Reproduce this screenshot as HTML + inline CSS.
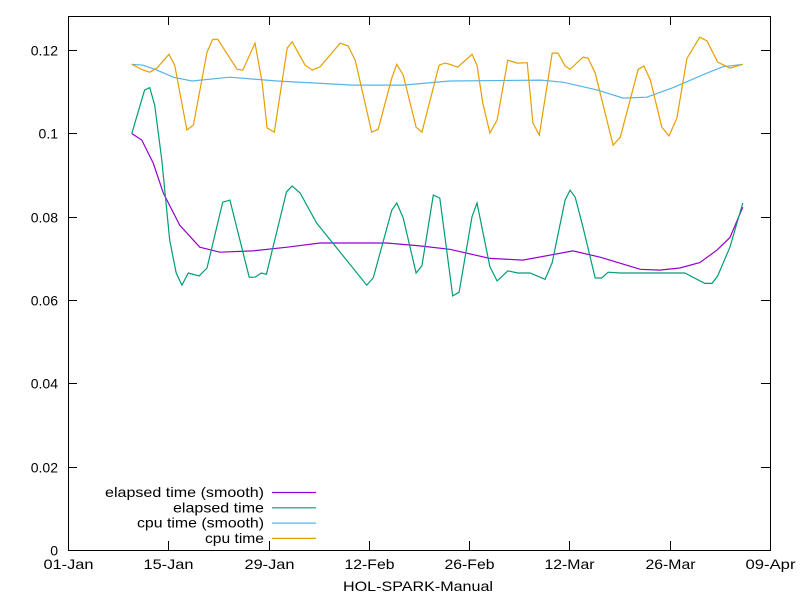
<!DOCTYPE html>
<html><head><meta charset="utf-8"><style>
body{margin:0;background:#fff}
svg{display:block;font-family:"Liberation Sans",sans-serif;font-size:14px}
</style></head><body>
<svg id="chart" width="800" height="600" viewBox="0 0 800 600" xmlns="http://www.w3.org/2000/svg">
<rect x="0" y="0" width="800" height="600" fill="#fff"/>
<g id="axes"></g>
<g id="series"></g>
<g id="legend"></g>
<text x="418" y="591" text-anchor="middle" textLength="150" lengthAdjust="spacingAndGlyphs">HOL-SPARK-Manual</text>
</svg>
<script>
// day offsets from 01-Jan
const yTicks = [0, 0.02, 0.04, 0.06, 0.08, 0.1, 0.12];
const yTickLabels = ["0", "0.02", "0.04", "0.06", "0.08", "0.1", "0.12"];
const xTicks = [0, 14, 28, 42, 56, 70, 84, 98];
const xTickLabels = ["01-Jan", "15-Jan", "29-Jan", "12-Feb", "26-Feb", "12-Mar", "26-Mar", "09-Apr"];

const elapsedDays = [8.9,10.7,11.4,12.1,13.1,14.2,15.1,15.9,16.8,18.3,19.4,21.6,22.6,25.3,26.1,27.0,27.7,30.5,31.3,32.4,34.7,41.7,42.6,45.2,45.9,46.8,48.6,49.4,51.0,51.9,53.7,54.6,56.4,57.1,58.9,59.9,61.4,62.8,64.5,66.6,67.6,69.4,70.1,70.8,71.9,73.6,74.5,75.4,77.1,79.9,82.2,86.1,88.9,89.9,90.7,92.4,94.2];
const elapsedVals = [0.100,0.1104,0.111,0.1068,0.0936,0.0744,0.0665,0.0636,0.0665,0.0658,0.0677,0.0835,0.084,0.0655,0.0655,0.0665,0.0662,0.086,0.0874,0.0857,0.0785,0.0636,0.0653,0.0816,0.0833,0.0797,0.0665,0.0682,0.0852,0.0845,0.061,0.0619,0.080,0.0833,0.068,0.0646,0.067,0.0665,0.0665,0.065,0.069,0.084,0.0864,0.0847,0.0775,0.0653,0.0653,0.0667,0.0665,0.0665,0.0665,0.0665,0.064,0.064,0.0658,0.0727,0.0833];

const elapsedSmoothDays = [8.9,10.3,11.9,13.3,15.6,18.4,21.2,25.8,30.6,35.2,44.5,49.1,53.3,58.9,63.5,70.5,74.3,79.9,82.6,85.4,88.2,90.6,92.4,94.2];
const elapsedSmoothVals = [0.100,0.0984,0.0929,0.0857,0.0780,0.0727,0.0715,0.0718,0.0727,0.0737,0.0737,0.073,0.0722,0.070,0.0696,0.0718,0.0703,0.0674,0.0672,0.0677,0.069,0.072,0.075,0.0823];

const cpuSmoothDays = [8.9,10.5,12.4,14.7,17.3,22.6,29.2,39.8,46.8,53.3,66.0,69.1,73.9,77.5,80.8,84.5,89.2,91.4,94.2];
const cpuSmoothVals = [0.1166,0.1164,0.1152,0.1135,0.1126,0.1135,0.1126,0.1116,0.1116,0.1126,0.1128,0.1123,0.1104,0.1085,0.1087,0.111,0.1145,0.116,0.1166];

const cpuDays = [8.9,10.5,11.4,12.4,14.1,14.9,16.6,17.5,19.4,20.2,20.9,23.6,24.4,26.1,27.1,27.8,28.8,30.6,31.3,33.1,34.1,35.2,38.0,39.1,40.1,42.4,43.3,45.2,45.9,46.8,48.6,49.4,51.8,52.6,53.3,54.4,56.4,57.1,57.9,58.9,59.9,61.4,62.7,64.1,64.9,65.8,67.6,68.4,69.4,70.1,71.9,72.6,73.6,76.1,77.1,79.6,80.4,81.3,82.9,83.9,85.0,86.4,88.2,89.2,90.7,92.4,94.2];
const cpuVals = [0.1166,0.1152,0.1147,0.1157,0.119,0.1164,0.1008,0.102,0.1195,0.1226,0.1226,0.1154,0.1152,0.1217,0.1123,0.1013,0.1003,0.1205,0.122,0.1164,0.1152,0.116,0.1217,0.121,0.1176,0.1003,0.101,0.1133,0.1166,0.114,0.1015,0.1003,0.1164,0.1169,0.1166,0.1159,0.119,0.1164,0.1073,0.1001,0.1032,0.1176,0.1169,0.117,0.1025,0.0996,0.1193,0.1193,0.1162,0.1154,0.1183,0.1181,0.1145,0.0972,0.0991,0.1154,0.1162,0.1128,0.1015,0.0994,0.1037,0.118,0.1231,0.1222,0.1171,0.1157,0.1166];

const NS = "http://www.w3.org/2000/svg";
const X0 = 68, X1 = 770, Y0 = 550, Y1 = 16;
function xScale(d){ return X0 + d / 98 * (X1 - X0); }
function yScale(v){ return Y0 - v / 0.1282 * (Y0 - Y1); }
function mk(tag, attrs, parent){
  const e = document.createElementNS(NS, tag);
  for (const k in attrs) e.setAttribute(k, attrs[k]);
  parent.appendChild(e);
  return e;
}
const axes = document.getElementById('axes');
const frame = mk('rect', {x:X0+0.5, y:Y1+0.5, width:X1-X0, height:Y0-Y1, fill:'none', stroke:'#000', 'stroke-width':1}, axes);


yTicks.forEach((v, i) => {
  const y = Math.round(yScale(v)) + 0.5;
  const t = mk('path', {d:`M${X0} ${y}h9M${X1} ${y}h-9`, stroke:'#000', 'stroke-width':1}, axes);
  
  
  const l = mk('text', {x:58, y:y+5, 'text-anchor':'end'}, axes);
  l.textContent = yTickLabels[i];
  
  
});
xTicks.forEach((d, i) => {
  const x = Math.round(xScale(d)) + 0.5;
  const t = mk('path', {d:`M${x} ${Y0}v-9M${x} ${Y1}v9`, stroke:'#000', 'stroke-width':1}, axes);
  
  
  const l = mk('text', {x:x, y:569, 'text-anchor':'middle', textLength:50, lengthAdjust:'spacingAndGlyphs'}, axes);
  l.textContent = xTickLabels[i];
  
  
});
const series = document.getElementById('series');
function line(days, vals, color, name){
  const pts = days.map((d, i) => xScale(d).toFixed(1) + ',' + yScale(vals[i]).toFixed(1)).join(' ');
  const p = mk('polyline', {points:pts, fill:'none', stroke:color, 'stroke-width':1.2}, series);
  
  
}
line(cpuSmoothDays, cpuSmoothVals, '#56b4e9', 'cpu-time-smooth-line');
line(cpuDays, cpuVals, '#e69f00', 'cpu-time-line');
line(elapsedSmoothDays, elapsedSmoothVals, '#9400d3', 'elapsed-time-smooth-line');
line(elapsedDays, elapsedVals, '#009e73', 'elapsed-time-line');

const legend = document.getElementById('legend');
const legendLabels = ["elapsed time (smooth)", "elapsed time", "cpu time (smooth)", "cpu time"];
const legendColors = ['#9400d3', '#009e73', '#56b4e9', '#e69f00'];
const legendWidths = [159, 91, 127, 59];
legendLabels.forEach((s, i) => {
  const y = 492 + i * 15.3;
  const t = mk('text', {x:264, y:y + 5, 'text-anchor':'end', textLength:legendWidths[i], lengthAdjust:'spacingAndGlyphs'}, legend);
  t.textContent = s;
  
  
  const l = mk('line', {x1:272, x2:316, y1:y+0.5, y2:y+0.5, stroke:legendColors[i], 'stroke-width':1.2}, legend);
  
  
});
</script>
</body></html>
